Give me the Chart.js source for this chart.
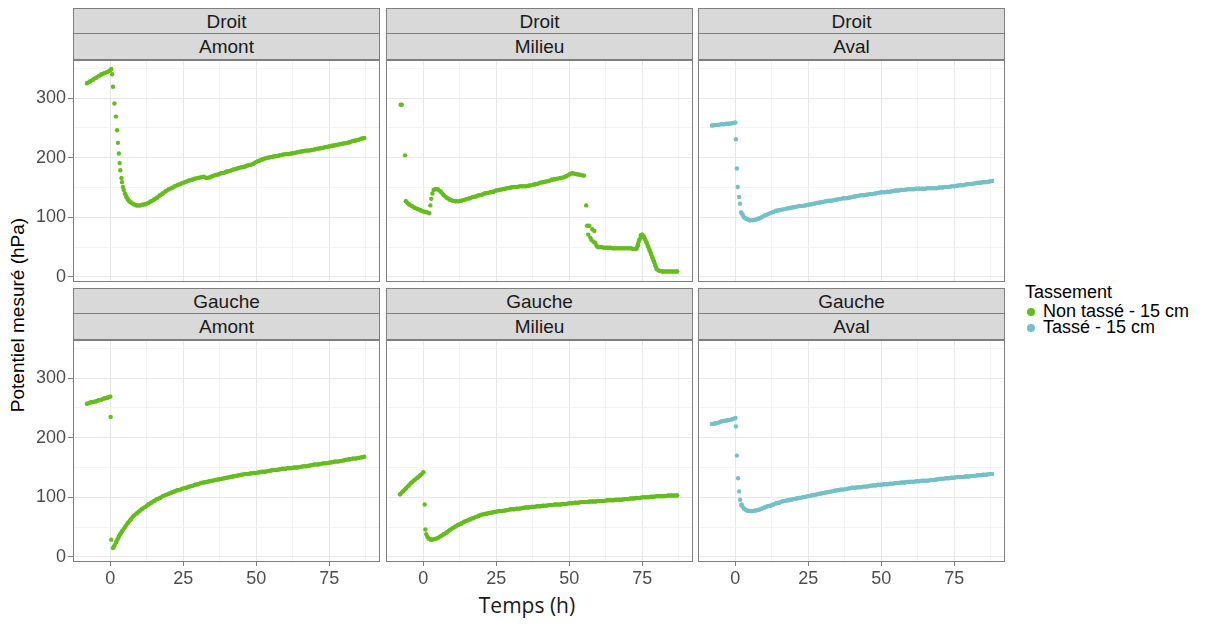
<!DOCTYPE html>
<html lang="fr">
<head>
<meta charset="utf-8">
<script src="https://cdn.jsdelivr.net/npm/chart.js@4.4.1/dist/chart.umd.min.js"></script>
<style>
  body { margin: 0; background: #fff; width: 1215px; height: 624px; position: relative; overflow: hidden;
         font-family: "Liberation Sans", Arial, sans-serif; }
  canvas { position: absolute; }
  .strip { position: absolute; height: 52px; box-sizing: border-box; border: 1px solid #7f7f7f; background: #d9d9d9; }
  .strip div { text-align: center; font-size: 19px; color: #1a1a1a; }
  .strip .s1 { height: 24px; line-height: 26px; border-bottom: 1px solid #7f7f7f; }
  .strip .s2 { height: 25px; line-height: 26px; }
  #ytitre { position: absolute; left: -132px; top: 304px; width: 300px; height: 22px; line-height: 22px;
            text-align: center; font-size: 19px; color: #000; transform: rotate(-90deg); }
  #xtitre { position: absolute; left: 427px; top: 593px; width: 200px; height: 24px; line-height: 24px;
            text-align: center; font-family: "Open Sans", sans-serif; font-size: 21px; color: #1a1a1a; }
  .leg { position: absolute; left: 1025px; font-size: 18px; line-height: 18px; color: #000; white-space: nowrap; }
  .leg i { position: absolute; left: 2px; top: 6px; width: 8px; height: 8px; border-radius: 50%; }
  .leg span { margin-left: 18px; }
</style>
</head>
<body>
<div id="ytitre">Potentiel mesuré (hPa)</div>
<div id="xtitre">Temps (h)</div>
<div class="leg" style="top:283px">Tassement</div>
<div class="leg" style="top:302px"><i style="background:#64bc1e"></i><span>Non tassé - 15 cm</span></div>
<div class="leg" style="top:318px"><i style="background:#74c0c8"></i><span>Tassé - 15 cm</span></div>

<script>
// temps (h), pas horaire
const heures = [
  -8, -7, -6, -5, -4, -3, -2, -1,
  0, 1, 2, 3, 4, 5, 6, 7, 8, 9,
  10, 11, 12, 13, 14, 15, 16, 17, 18, 19,
  20, 21, 22, 23, 24, 25, 26, 27, 28, 29,
  30, 31, 32, 33, 34, 35, 36, 37, 38, 39,
  40, 41, 42, 43, 44, 45, 46, 47, 48, 49,
  50, 51, 52, 53, 54, 55, 56, 57, 58, 59,
  60, 61, 62, 63, 64, 65, 66, 67, 68, 69,
  70, 71, 72, 73, 74, 75, 76, 77, 78, 79,
  80, 81, 82, 83, 84, 85, 86, 87, 88
];

// potentiel (hPa) aux heures ci-dessus
const droitAmont = [
  325, 328, 331, 334, 337, 340, 342, 344,
  347, null, null, null, null, 140, 130, 125, 122, 120,
  120, 121, 122, 124, 127, 130, 133, 137, 140, 144,
  147, 149, 152, 154, 156, 158, 160, 162, 163, 165,
  166, 167, 168, 166, 167, 169, 171, 172, 174, 175,
  177, 178, 180, 181, 183, 184, 185, 187, 188, 190,
  193, 195, 197, 199, 200, 201, 202, 203, 204, 205,
  206, 206, 207, 208, 209, 210, 211, 212, 212, 213,
  214, 215, 216, 217, 218, 219, 220, 221, 222, 223,
  224, 225, 226, 228, 229, 230, 232, 233, null
];
const droitMilieu = [
  null, null, 127, 122, 119, 116, 114, 112,
  110, 109, 107, null, 147, 147, 143, 137, 133, 130,
  128, 127, 127, 128, 129, 131, 132, 134, 135, 137,
  138, 140, 141, 142, 143, 145, 146, 147, 148, 149,
  150, 151, 151, 152, 152, 152, 153, 154, 155, 156,
  158, 159, 160, 161, 163, 164, 165, 166, 167, 169,
  172, 174, 173, 172, 171, 170, null, null, null, null,
  50, 50, 49, 49, 49, 48, 48, 48, 48, 48,
  48, 48, 47, 47, 62, 71, 63, 51, 39, 26,
  13, 10, 9, 9, 9, 9, 9, 9, null
];
const droitAval = [
  254, 255, 255, 256, 256, 257, 257, 258,
  259, null, 108, 100, 97, 95, 95, 96, 98, 100,
  103, 105, 107, 109, 111, 112, 113, 114, 115, 116,
  117, 118, 119, 119, 120, 121, 122, 123, 124, 125,
  126, 127, 128, 128, 129, 130, 131, 132, 132, 133,
  134, 135, 136, 137, 137, 138, 139, 139, 140, 141,
  142, 142, 143, 143, 144, 145, 145, 146, 146, 147,
  147, 147, 148, 148, 148, 148, 149, 149, 149, 149,
  150, 150, 151, 151, 152, 152, 153, 154, 154, 155,
  156, 156, 157, 158, 158, 159, 159, 160, 161
];
const gaucheAmont = [
  257, 259, 260, 261, 263, 264, 266, 267,
  269, null, 25, 35, 43, 50, 57, 63, 69, 73,
  77, 81, 84, 88, 91, 94, 97, 99, 102, 104,
  106, 108, 110, 112, 113, 115, 116, 118, 119, 121,
  122, 124, 125, 126, 127, 128, 129, 130, 131, 132,
  133, 134, 135, 136, 137, 138, 139, 139, 140, 141,
  141, 142, 143, 143, 144, 145, 146, 146, 147, 148,
  148, 149, 149, 150, 150, 151, 152, 152, 153, 154,
  155, 155, 156, 157, 157, 158, 159, 160, 160, 161,
  162, 163, 164, 165, 165, 166, 167, 168, null
];
const gaucheMilieu = [
  105, 110, 115, 120, 125, 129, 133, 137,
  142, null, 30, 29, 30, 32, 35, 38, 41, 45,
  48, 51, 54, 56, 59, 61, 63, 65, 67, 69,
  71, 72, 73, 74, 75, 76, 77, 77, 78, 79,
  80, 80, 81, 81, 82, 83, 83, 84, 84, 85,
  85, 86, 86, 87, 87, 88, 88, 88, 89, 89,
  90, 90, 91, 91, 92, 92, 92, 93, 93, 93,
  94, 94, 94, 95, 95, 95, 96, 96, 96, 97,
  97, 98, 98, 99, 99, 100, 100, 100, 101, 101,
  102, 102, 102, 102, 103, 103, 103, 103, null
];
const gaucheAval = [
  223, 224, 225, 227, 228, 229, 230, 231,
  233, null, 87, 81, 78, 77, 77, 78, 79, 81,
  83, 85, 86, 88, 90, 91, 93, 94, 95, 96,
  97, 98, 99, 100, 101, 102, 103, 104, 105, 106,
  107, 108, 109, 110, 111, 112, 113, 113, 114, 115,
  116, 116, 117, 117, 118, 118, 119, 120, 120, 121,
  121, 122, 122, 123, 123, 124, 124, 125, 125, 126,
  126, 126, 127, 127, 128, 128, 128, 129, 129, 130,
  131, 131, 132, 132, 133, 133, 134, 134, 134, 135,
  135, 136, 136, 137, 137, 138, 138, 139, 139
];

// mesures isolées (chute après l'évènement)
const droitAmontT = [0.3, 0.6, 0.9, 1.4, 1.9, 2.3, 2.6, 2.9, 3.2, 3.4, 3.8, 4.0, 4.3, 4.6, 5.5, 6.5];
const droitAmontP = [349, 340, 319, 291, 269, 246, 225, 207, 191, 179, 166, 159, 151, 146, 134, 127];
const droitMilieuT = [-7.8, -7.4, -6.3, 2.4, 2.7, 3.1, 3.5, 55.8, 56.1, 56.5, 56.9, 57.2, 57.6, 57.9, 58.3, 58.6, 58.9, 59.3, 59.6, 73.6, 74.5, 75.5, 76.5, 77.5, 78.5, 79.5];
const droitMilieuP = [289, 289, 204, 120, 131, 140, 146, 120, 86, 71, 86, 66, 62, 80, 59, 77, 57, 53, 51, 53, 70, 68, 58, 45, 32, 19];
const droitAvalT = [0.2, 0.5, 0.8, 1.3, 1.6, 2.6, 3.5, 4.5];
const droitAvalP = [231, 182, 151, 134, 123, 104, 98, 96];
const gaucheAmontT = [0.1, 0.3, 0.9, 1.2, 1.5, 2.5, 3.5];
const gaucheAmontP = [235, 29, 15, 17, 20, 30, 39];
const gaucheMilieuT = [0.45, 0.7, 1.0, 1.35, 1.7, 2.5];
const gaucheMilieuP = [88, 46, 38, 34, 32, 29];
const gaucheAvalT = [0.2, 0.5, 0.9, 1.3, 1.6, 2.2, 3.5];
const gaucheAvalP = [219, 170, 132, 110, 96, 88, 79];

// graduations : étiquetées et lignes de grille
const xTicks = [0, 25, 50, 75];
const yTicks = [0, 100, 200, 300];
const xGrille = [-12.5, 0, 12.5, 25, 37.5, 50, 62.5, 75, 87.5];
const yGrille = [0, 50, 100, 150, 200, 250, 300, 350];

const vert = '#64bc1e';
const bleu = '#74c0c8';

// positions des panneaux (px)
const colG = [73, 386, 698], colD = [380, 693, 1005];
const ligH = [60, 340], ligB = [282, 562];

const panneaux = [
  {cote: 'Droit', pos: 'Amont', row: 0, col: 0, v: droitAmont, t: droitAmontT, p: droitAmontP, c: vert},
  {cote: 'Droit', pos: 'Milieu', row: 0, col: 1, v: droitMilieu, t: droitMilieuT, p: droitMilieuP, c: vert},
  {cote: 'Droit', pos: 'Aval', row: 0, col: 2, v: droitAval, t: droitAvalT, p: droitAvalP, c: bleu},
  {cote: 'Gauche', pos: 'Amont', row: 1, col: 0, v: gaucheAmont, t: gaucheAmontT, p: gaucheAmontP, c: vert},
  {cote: 'Gauche', pos: 'Milieu', row: 1, col: 1, v: gaucheMilieu, t: gaucheMilieuT, p: gaucheMilieuP, c: vert},
  {cote: 'Gauche', pos: 'Aval', row: 1, col: 2, v: gaucheAval, t: gaucheAvalT, p: gaucheAvalP, c: bleu}
];

const cadre = {
  id: 'cadre',
  afterDatasetsDraw(chart) {
    const a = chart.chartArea, ctx = chart.ctx;
    ctx.save();
    ctx.strokeStyle = '#7f7f7f';
    ctx.lineWidth = 1;
    ctx.strokeRect(a.left + 0.5, a.top + 0.5, a.right - a.left - 1, a.bottom - a.top - 1);
    ctx.restore();
  }
};

Chart.defaults.font.family = '"Liberation Sans", Arial, sans-serif';

panneaux.forEach(pn => {
  const L = colG[pn.col], R = colD[pn.col], T = ligH[pn.row], B = ligB[pn.row];
  const gauche = pn.col === 0, bas = pn.row === 1;

  const strip = document.createElement('div');
  strip.className = 'strip';
  strip.style.left = L + 'px';
  strip.style.top = (T - 52) + 'px';
  strip.style.width = (R - L) + 'px';
  strip.innerHTML = '<div class="s1">' + pn.cote + '</div><div class="s2">' + pn.pos + '</div>';
  document.body.appendChild(strip);

  const cv = document.createElement('canvas');
  cv.width = R - L + 73 + 1;
  cv.height = B - T + 1 + 40;
  cv.style.left = (L - 73) + 'px';
  cv.style.top = (T - 1) + 'px';
  document.body.appendChild(cv);

  new Chart(cv, {
    type: 'scatter',
    data: {
      datasets: [
        {
          data: heures.map((t, i) => ({x: t, y: pn.v[i]})),
          showLine: true, spanGaps: false,
          borderColor: pn.c, backgroundColor: pn.c, borderWidth: 4,
          borderCapStyle: 'round', borderJoinStyle: 'round',
          pointRadius: 2.2, pointBorderWidth: 0
        },
        {
          data: pn.t.map((t, i) => ({x: t, y: pn.p[i]})),
          backgroundColor: pn.c, borderColor: pn.c,
          pointRadius: 2.2, pointBorderWidth: 0
        }
      ]
    },
    options: {
      responsive: false,
      animation: false,
      events: [],
      layout: {autoPadding: false, padding: {top: 1, right: 1, left: 0, bottom: 0}},
      plugins: {legend: {display: false}, tooltip: {enabled: false}},
      scales: {
        x: {
          type: 'linear', min: -12.8, max: 92.4, bounds: 'data',
          border: {display: false},
          afterBuildTicks: s => { s.ticks = xGrille.map(v => ({value: v})); },
          grid: {
            color: c => xTicks.includes(c.tick.value) ? '#e8e8e8' : '#f3f3f3',
            drawTicks: bas, tickLength: 4, tickWidth: 1,
            tickColor: c => xTicks.includes(c.tick.value) ? '#7f7f7f' : 'rgba(0,0,0,0)'
          },
          ticks: {
            display: bas, autoSkip: false, maxRotation: 0,
            color: '#4d4d4d', font: {size: 18}, padding: 2,
            callback: v => xTicks.includes(v) ? v : ''
          },
          afterFit: s => { s.height = 40; s.paddingLeft = 0; s.paddingRight = 0; }
        },
        y: {
          type: 'linear', min: -8.5, max: 364, bounds: 'data',
          border: {display: false},
          afterBuildTicks: s => { s.ticks = yGrille.map(v => ({value: v})); },
          grid: {
            color: c => yTicks.includes(c.tick.value) ? '#e8e8e8' : '#f3f3f3',
            drawTicks: gauche, tickLength: 5, tickWidth: 1,
            tickColor: c => yTicks.includes(c.tick.value) ? '#7f7f7f' : 'rgba(0,0,0,0)'
          },
          ticks: {
            display: gauche, autoSkip: false,
            color: '#4d4d4d', font: {size: 18}, padding: 2,
            callback: v => yTicks.includes(v) ? v : ''
          },
          afterFit: s => { s.width = 73; s.paddingTop = 0; s.paddingBottom = 0; }
        }
      }
    },
    plugins: [cadre]
  });
});
</script>
</body>
</html>
